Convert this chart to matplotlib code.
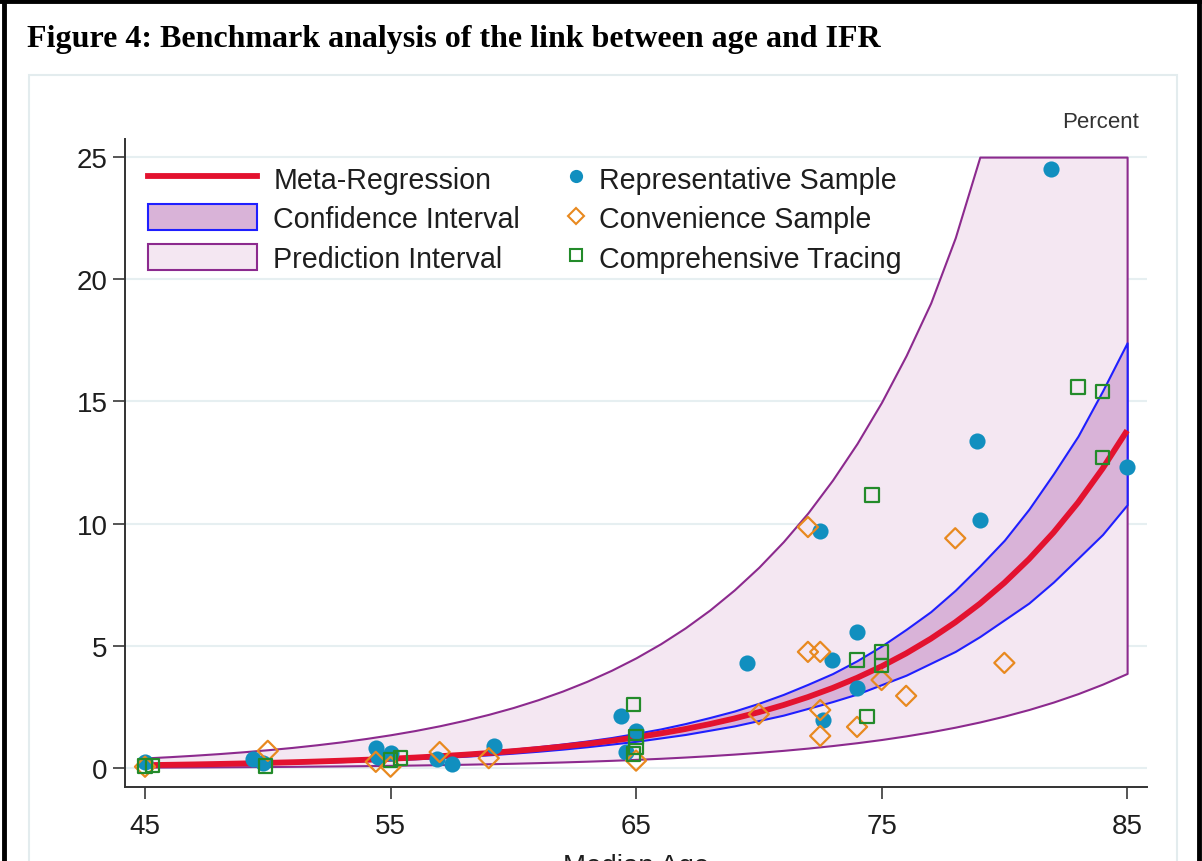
import matplotlib

matplotlib.use("Agg")

import matplotlib.pyplot as plt
from matplotlib.lines import Line2D
from matplotlib.patches import Patch, Rectangle

# meta-regression curve and intervals (percent)
ages = list(range(45, 86))
fit_ifr = [0.114, 0.128, 0.144, 0.163, 0.184, 0.207, 0.233, 0.263, 0.297, 0.335,
           0.377, 0.425, 0.480, 0.541, 0.610, 0.687, 0.775, 0.874, 0.985, 1.111,
           1.252, 1.412, 1.592, 1.795, 2.024, 2.282, 2.573, 2.901, 3.271, 3.688,
           4.158, 4.688, 5.286, 5.960, 6.720, 7.577, 8.543, 9.632, 10.86, 12.25,
           13.81]
ci_upper = [0.137, 0.152, 0.171, 0.192, 0.215, 0.240, 0.268, 0.302, 0.338, 0.381,
            0.426, 0.480, 0.542, 0.606, 0.683, 0.770, 0.868, 0.979, 1.103, 1.244,
            1.415, 1.596, 1.815, 2.064, 2.328, 2.647, 3.010, 3.423, 3.860, 4.389,
            4.990, 5.672, 6.396, 7.271, 8.266, 9.320, 10.59, 12.04, 13.58, 15.43,
            17.40]
ci_lower = [0.094, 0.108, 0.121, 0.139, 0.156, 0.178, 0.200, 0.229, 0.258, 0.291,
            0.332, 0.374, 0.422, 0.476, 0.536, 0.605, 0.682, 0.769, 0.867, 0.977,
            1.089, 1.228, 1.369, 1.544, 1.720, 1.940, 2.161, 2.437, 2.715, 3.024,
            3.410, 3.797, 4.282, 4.768, 5.376, 6.062, 6.749, 7.609, 8.579, 9.555,
            10.77]
pi_upper = [0.409, 0.461, 0.520, 0.586, 0.661, 0.745, 0.840, 0.948, 1.068, 1.205,
            1.358, 1.531, 1.726, 1.947, 2.195, 2.474, 2.790, 3.145, 3.546, 3.999,
            4.508, 5.083, 5.731, 6.462, 7.286, 8.215, 9.263, 10.44, 11.78, 13.28,
            14.97, 16.88, 19.03, 21.70, 25.0, 25.0, 25.0, 25.0, 25.0, 25.0,
            25.0]
pi_lower = [0.032, 0.036, 0.040, 0.046, 0.051, 0.058, 0.065, 0.074, 0.083, 0.094,
            0.106, 0.119, 0.134, 0.151, 0.171, 0.192, 0.217, 0.245, 0.276, 0.311,
            0.351, 0.395, 0.446, 0.503, 0.567, 0.639, 0.720, 0.812, 0.916, 1.033,
            1.164, 1.313, 1.480, 1.669, 1.882, 2.122, 2.392, 2.697, 3.041, 3.430,
            3.867]

# study estimates
rep_age = [45.0, 49.4, 49.8, 54.4, 54.5, 55.0, 56.9, 57.5, 59.2, 64.4, 64.6, 65.0,
           69.5, 72.5, 72.6, 73.0, 74.0, 74.0, 78.9, 79.0, 81.9, 85.0]
rep_ifr = [0.25, 0.37, 0.2, 0.8, 0.45, 0.6, 0.35, 0.15, 0.9, 2.13, 0.65, 1.5,
           4.3, 9.7, 1.96, 4.4, 5.57, 3.27, 13.4, 10.15, 24.5, 12.3]
conv_age = [45.0, 50.0, 54.4, 55.0, 57.0, 59.0, 65.0, 70.0, 72.0, 72.0, 72.5, 72.5,
            72.5, 74.0, 75.0, 76.0, 78.0, 80.0]
conv_ifr = [0.05, 0.7, 0.25, 0.05, 0.65, 0.4, 0.3, 2.2, 9.86, 4.75, 4.75, 2.37,
            1.31, 1.68, 3.6, 2.95, 9.4, 4.3]
comp_age = [45.0, 45.3, 49.9, 55.0, 55.4, 64.9, 65.0, 65.0, 64.9, 74.0, 75.0, 75.0,
            74.4, 74.6, 83.0, 84.0, 84.0]
comp_ifr = [0.08, 0.1, 0.08, 0.33, 0.4, 2.6, 1.27, 0.86, 0.57, 4.42, 4.75, 4.2,
            2.1, 11.17, 15.6, 15.4, 12.7]

x_ticks = [45, 55, 65, 75, 85]
y_ticks = [0, 5, 10, 15, 20, 25]

RED = "#e3122f"
CI_FILL = "#d9b3d8"
CI_EDGE = "#1f1fff"
PI_FILL = "#f4e7f2"
PI_EDGE = "#8c2a8e"
REP_COLOR = "#118fbf"
CONV_COLOR = "#e8891f"
COMP_COLOR = "#238b2a"
TEXT = "#1e1e1e"

W, H = 1202, 862
fig = plt.figure(figsize=(W / 100, H / 100), dpi=100)
fig.patch.set_facecolor("white")

# outer black frame (bottom is cut off) and the light panel border
fig.add_artist(Line2D([4 / W, 4 / W], [-0.1, 1.0], color="black", lw=3.5))
fig.add_artist(Line2D([0, 1], [1 - 1.5 / H, 1 - 1.5 / H], color="black", lw=3.5))
fig.add_artist(Line2D([1198.5 / W, 1198.5 / W], [-0.1, 1.0], color="black", lw=3.5))
fig.add_artist(Rectangle((29 / W, -0.1), 1148 / W, 1.1 - 76 / H, transform=fig.transFigure,
                         fill=False, edgecolor="#e3ecee", lw=1.5))

fig.text(27 / W, 1 - 40 / H, "Figure 4: Benchmark analysis of the link between age and IFR",
         fontfamily="Liberation Serif", fontweight="bold", fontsize=23,
         ha="left", va="center", color="black")

ax = fig.add_axes([125 / W, 1 - 788 / H, (1147 - 125) / W, (788 - 140) / H])
ax.set_facecolor("white")

ax.fill_between(ages, pi_lower, pi_upper, facecolor=PI_FILL, edgecolor=PI_EDGE, lw=1.5, zorder=2)
ax.fill_between(ages, ci_lower, ci_upper, facecolor=CI_FILL, edgecolor=CI_EDGE, lw=1.5, zorder=3)
ax.plot(ages, fit_ifr, color=RED, lw=4.2, solid_capstyle="butt", zorder=4)

ax.scatter(rep_age, rep_ifr, s=135, marker="o", color=REP_COLOR, linewidths=0, zorder=5)
ax.scatter(conv_age, conv_ifr, s=105, marker="D", facecolors="none", edgecolors=CONV_COLOR,
           linewidths=1.6, zorder=6)
ax.scatter(comp_age, comp_ifr, s=95, marker="s", facecolors="none", edgecolors=COMP_COLOR,
           linewidths=1.6, zorder=7)

ax.set_xlim(44.185, 85.81)
ax.set_ylim(-0.78, 25.74)
ax.set_xticks(x_ticks)
ax.set_yticks(y_ticks)
ax.grid(axis="y", color="#e6eff1", lw=1.5, zorder=0)
ax.set_axisbelow(True)
for side in ("top", "right"):
    ax.spines[side].set_visible(False)
for side in ("left", "bottom"):
    ax.spines[side].set_color("#333333")
    ax.spines[side].set_linewidth(1.4)
ax.tick_params(axis="both", direction="out", length=8.5, width=1.4, color="#555555",
               labelsize=20, labelcolor=TEXT)
ax.tick_params(axis="x", pad=10)
ax.tick_params(axis="y", pad=4)
for lab in ax.get_xticklabels() + ax.get_yticklabels():
    lab.set_fontfamily("Liberation Sans")

fig.text(1139 / W, 1 - 123 / H, "Percent", fontfamily="Liberation Sans", fontsize=16,
         ha="right", va="center", color="#333333")
# axis title sits mostly below the cropped bottom edge, as in the source
fig.text(636 / W, 1 - 854 / H, "Median Age", fontfamily="Liberation Sans", fontsize=20,
         ha="center", va="top", color=TEXT)

left_handles = [
    Line2D([], [], color=RED, lw=4.2),
    Patch(facecolor=CI_FILL, edgecolor=CI_EDGE, lw=1.5),
    Patch(facecolor=PI_FILL, edgecolor=PI_EDGE, lw=1.5),
]
left_labels = ["Meta-Regression", "Confidence Interval", "Prediction Interval"]
right_handles = [
    Line2D([], [], ls="none", marker="o", ms=9.5, color=REP_COLOR, mew=0),
    Line2D([], [], ls="none", marker="D", ms=8.5, mfc="none", mec=CONV_COLOR, mew=1.5),
    Line2D([], [], ls="none", marker="s", ms=8, mfc="none", mec=COMP_COLOR, mew=1.5),
]
right_labels = ["Representative Sample", "Convenience Sample", "Comprehensive Tracing"]

leg_kw = dict(loc="upper left", frameon=False, borderpad=0, borderaxespad=0,
              prop={"family": "Liberation Sans", "size": 20.6}, labelcolor=TEXT,
              labelspacing=0.38, handleheight=1.0)
leg1 = fig.legend(left_handles, left_labels, bbox_to_anchor=(148 / W, 1 - 166 / H),
                  handlelength=3.8, handletextpad=0.58, **leg_kw)
leg2 = fig.legend(right_handles, right_labels, bbox_to_anchor=(562 / W, 1 - 166 / H),
                  handlelength=1.0, handletextpad=0.3, **leg_kw)

fig.savefig("out.png", dpi=100)
